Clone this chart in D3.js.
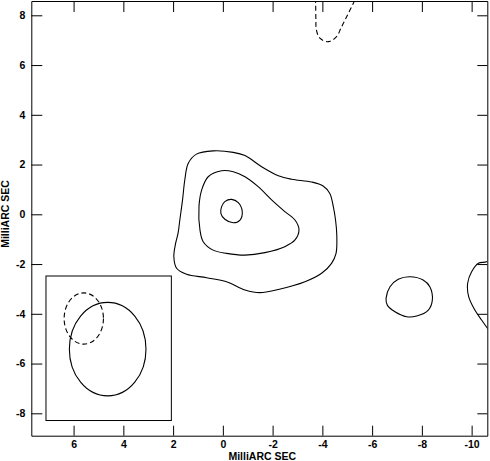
<!DOCTYPE html>
<html>
<head>
<meta charset="utf-8">
<script src="https://cdn.jsdelivr.net/npm/d3@7"></script>
<style>
  body { margin: 0; background: #fff; }
  svg text { font-family: "Liberation Sans", Arial, Helvetica, sans-serif; font-weight: bold; font-size: 10.5px; fill: #000; }
  .contour { fill: none; stroke: #000; stroke-width: 1.1; }
  .dashed { stroke-dasharray: 5,3; }
  .axis path, .axis line { stroke: #000; stroke-width: 1; }
</style>
</head>
<body>
<div id="chart"></div>
<script>
(function() {

// tick labels
const xTicks = [6, 4, 2, 0, -2, -4, -6, -8, -10];
const yTicks = [8, 6, 4, 2, 0, -2, -4, -6, -8];

// contours, [RA offset, Dec offset] in milliarcsec
const outerContour = [
    [1.62, 0.58], [1.53, 1.38], [1.39, 2.05], [1.06, 2.42], [0.39, 2.55], [-0.42, 2.49],
    [-0.89, 2.36], [-1.56, 1.91], [-2.23, 1.55], [-2.76, 1.41], [-3.57, 1.30], [-4.03, 1.14],
    [-4.30, 0.84], [-4.44, 0.31], [-4.53, -0.23], [-4.58, -0.83], [-4.55, -1.57], [-4.37, -1.97],
    [-3.97, -2.37], [-3.30, -2.71], [-2.23, -3.02], [-1.49, -3.15], [-0.89, -3.04], [-0.15, -2.71],
    [0.65, -2.55], [1.46, -2.41], [1.86, -2.17], [1.97, -1.71], [1.90, -1.17], [1.80, -0.76],
    [1.73, -0.23]
];
const middleContour = [
    [0.92, -0.63], [0.96, 0.31], [0.85, 0.98], [0.59, 1.51], [0.05, 1.75], [-0.42, 1.71],
    [-0.89, 1.51], [-1.42, 1.11], [-1.96, 0.58], [-2.49, 0.11], [-2.90, -0.23], [-3.06, -0.63],
    [-2.90, -1.03], [-2.49, -1.30], [-1.69, -1.54], [-0.89, -1.64], [-0.15, -1.57], [0.39, -1.44],
    [0.79, -1.10]
];
const innerContour = [
    [0.05, 0.31], [-0.08, 0.51], [-0.35, 0.60], [-0.62, 0.47], [-0.78, 0.11], [-0.69, -0.23],
    [-0.42, -0.34], [-0.08, -0.20], [0.08, 0.04]
];
const eastContour = [
    [-6.56, -3.38], [-6.72, -2.91], [-7.05, -2.61], [-7.52, -2.51], [-8.05, -2.64], [-8.32, -2.91],
    [-8.42, -3.45], [-8.26, -3.85], [-7.79, -4.09], [-7.39, -4.12], [-6.92, -3.92], [-6.61, -3.65]
];
const edgeContour = [
    [-10.82, -1.76], [-10.60, -1.91], [-10.27, -1.97], [-10.00, -2.31], [-9.84, -2.77],
    [-9.88, -3.31], [-10.13, -3.85], [-10.40, -4.25], [-10.74, -4.73]
];
const negContour = [
    [-3.72, 8.70], [-3.73, 8.48], [-3.74, 7.81], [-3.76, 7.41], [-3.90, 7.08], [-4.24, 6.94],
    [-4.57, 7.14], [-4.75, 7.49], [-4.91, 7.81], [-5.11, 8.21], [-5.35, 8.70]
];

// beam box [left, right, top, bottom] and beam ellipses [cx, cy, rx, ry]
const beamBox = [7.11, 2.07, -2.48, -8.29];
const beamSolid = [4.63, -5.42, 1.54, 1.88];
const beamDashed = [5.59, -4.19, 0.79, 1.03];

let margin = {top: 1, right: 2.7, bottom: 25.3, left: 31.3};
let W = 490, H = 461;
let width = W - margin.left - margin.right;
let height = H - margin.top - margin.bottom;

let xScale = d3.scaleLinear().domain([7.70, -10.63]).range([0, width]);
let yScale = d3.scaleLinear().domain([8.575, -8.90]).range([0, height]);

// plain hyphen minus, like the original plot
let fmt = (d) => String(d);

let svg = d3.select("#chart").append("svg")
    .attr("width", W)
    .attr("height", H)
  .append("g")
    .attr("transform", "translate(" + margin.left + "," + margin.top + ")");

svg.append("clipPath").attr("id", "plotclip")
  .append("rect").attr("width", width).attr("height", height);

// axes, ticks point inward
svg.append("g").attr("class", "axis")
    .attr("transform", "translate(0," + height + ")")
    .call(d3.axisBottom(xScale).tickValues(xTicks).tickFormat(fmt).tickSizeInner(-10).tickSizeOuter(0).tickPadding(5));

svg.append("g").attr("class", "axis")
    .call(d3.axisTop(xScale).tickValues(xTicks).tickSizeInner(-11).tickSizeOuter(0).tickFormat(""));

svg.append("g").attr("class", "axis")
    .call(d3.axisLeft(yScale).tickValues(yTicks).tickFormat(fmt).tickSizeInner(-11).tickSizeOuter(0).tickPadding(6));

svg.append("g").attr("class", "axis")
    .attr("transform", "translate(" + width + ",0)")
    .call(d3.axisRight(yScale).tickValues(yTicks).tickSizeInner(-10).tickSizeOuter(0).tickFormat(""));

// let the css font win over the axis defaults
svg.selectAll(".axis").attr("font-family", null).attr("font-size", null);

// axis titles
svg.append("text")
    .attr("x", 231)
    .attr("y", height + 24.5)
    .attr("text-anchor", "middle")
    .text("MilliARC SEC");

svg.append("text")
    .attr("transform", "translate(" + (-22.5) + "," + 213 + ") rotate(-90)")
    .attr("text-anchor", "middle")
    .text("MilliARC SEC");

// contours
let closedLine = d3.line()
    .x((d) => xScale(d[0]))
    .y((d) => yScale(d[1]))
    .curve(d3.curveCatmullRomClosed.alpha(0.5));

let openLine = d3.line()
    .x((d) => xScale(d[0]))
    .y((d) => yScale(d[1]))
    .curve(d3.curveCatmullRom.alpha(0.5));

let plot = svg.append("g").attr("clip-path", "url(#plotclip)");

[outerContour, middleContour, innerContour, eastContour].forEach(function(c) {
    plot.append("path").datum(c).attr("class", "contour").attr("d", closedLine);
});

plot.append("path").datum(edgeContour).attr("class", "contour").attr("d", openLine);
plot.append("path").datum(negContour).attr("class", "contour dashed").attr("d", openLine);

// beam
svg.append("rect")
    .attr("x", xScale(beamBox[0]))
    .attr("y", yScale(beamBox[2]))
    .attr("width", xScale(beamBox[1]) - xScale(beamBox[0]))
    .attr("height", yScale(beamBox[3]) - yScale(beamBox[2]))
    .attr("fill", "none")
    .attr("stroke", "#000")
    .attr("stroke-width", 1);

function drawBeam(b, dashed) {
    svg.append("ellipse")
        .attr("class", dashed ? "contour dashed" : "contour")
        .attr("cx", xScale(b[0]))
        .attr("cy", yScale(b[1]))
        .attr("rx", Math.abs(xScale(b[2]) - xScale(0)))
        .attr("ry", Math.abs(yScale(b[3]) - yScale(0)));
}
drawBeam(beamSolid, false);
drawBeam(beamDashed, true);

})();
</script>
</body>
</html>
